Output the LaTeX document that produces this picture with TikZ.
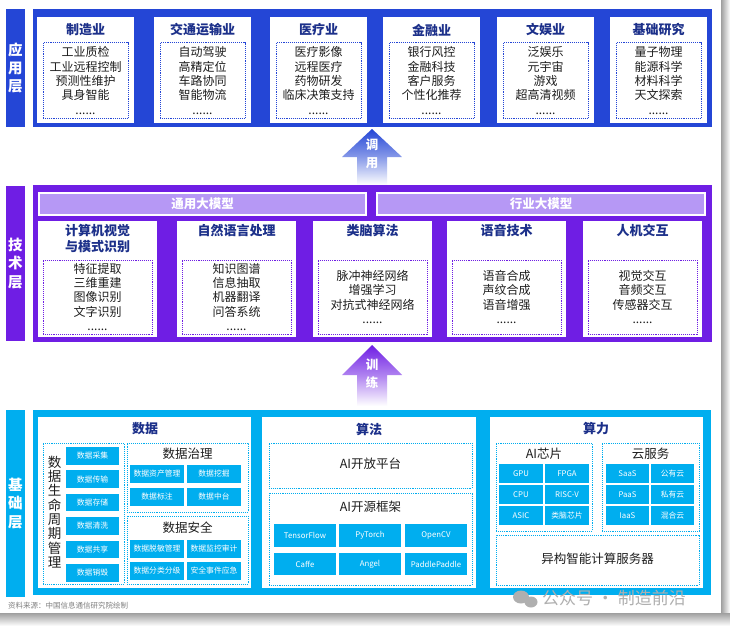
\documentclass[tikz,border=0pt]{standalone}
\usepackage{fontspec}
\setmainfont{Noto Sans CJK SC}
\definecolor{appblue}{RGB}{36,70,214}
\definecolor{techpur}{RGB}{111,30,228}
\definecolor{lightpur}{RGB}{182,152,245}
\definecolor{basecyan}{RGB}{0,174,239}
\definecolor{navy}{RGB}{28,48,138}
\definecolor{txt}{RGB}{30,30,30}
\definecolor{wm}{RGB}{175,175,175}
\newcommand\rbox[7]{\node[#1, minimum width=#5pt, minimum height=#6pt] (#2) at (#3,#4) {#7};}
\tikzset{
 rect/.style={anchor=north west, inner sep=0pt, outer sep=0pt},
 barbox/.style={rect, fill=#1, text=white, font=\fontsize{14.5}{18.3}\selectfont\bfseries, align=center},
 panelbox/.style={rect, fill=#1},
 wbox/.style={rect, fill=white},
 dotbox/.style={rect, draw=#1, line width=1pt, dash pattern=on 1pt off 0.9pt},
 ttl/.style={font=\fontsize{13}{16}\selectfont\bfseries, text=navy, inner sep=0pt, align=center},
 item/.style={font=\fontsize{12}{14.3}\selectfont, text=txt, inner sep=0pt, align=center},
 cbox/.style={rect, fill=basecyan, text=white, font=\fontsize{7.8}{9}\selectfont},
 subttl/.style={font=\fontsize{12.5}{15}\selectfont, text=txt, inner sep=0pt, align=center},
 lpbar/.style={rect, fill=lightpur, draw=white, line width=1.2pt, text=white, font=\fontsize{12.5}{15}\selectfont\bfseries},
 arrtxt/.style={text=white, font=\fontsize{12.5}{15}\selectfont\bfseries, inner sep=0pt},
}
\begin{document}
\begin{tikzpicture}[x=1pt, y=-1pt]
\useasboundingbox (0,0) rectangle (730,626);
\fill[white] (0,0) rectangle (730,626);
% shadows
\shade[left color=gray!75, right color=white] (721,0) rectangle (730,626);
\shade[top color=gray!75, bottom color=white] (0,613) rectangle (730,626);
\fill[white] (0,0) rectangle (721,613);

% ================= application layer
\rbox{barbox=appblue}{appbar}{6}{9}{19}{118}{应\\用\\层}
\rbox{panelbox=appblue}{apppanel}{33}{9}{679}{118}{}
\foreach \i/\x/\t/\its in {
 1/37/制造业/{工业质检\\工业远程控制\\预测性维护\\具身智能\\......},
 2/154/交通运输业/{自动驾驶\\高精定位\\车路协同\\智能物流\\......},
 3/270/医疗业/{医疗影像\\远程医疗\\药物研发\\临床决策支持\\......},
 4/383/金融业/{银行风控\\金融科技\\客户服务\\个性化推荐\\......},
 5/497/文娱业/{泛娱乐\\元宇宙\\游戏\\超高清视频\\......},
 6/610/基础研究/{量子物理\\能源科学\\材料科学\\天文探索\\......}}{
 \rbox{wbox}{a\i}{\x}{17}{97}{106}{}
 \node[ttl] (at\i) at (\x+48.5,30) {\t};
 \rbox{dotbox=appblue}{ad\i}{\x+6}{43}{85}{75}{}
 \node[item] (ai\i) at (\x+48.5,80.5) {\its};
}

% arrow 调用
\shade[top color=appblue, bottom color=white, middle color=appblue!55]
 (372,129) -- (402,157) -- (387,157) -- (387,185) -- (357,185) -- (357,157) -- (342,157) -- cycle;
\node[arrtxt] (tiao) at (372,145) {调};
\node[arrtxt] (yong) at (372,163) {用};

% ================= technology layer
\rbox{barbox=techpur}{techbar}{6}{186}{19}{155}{技\\术\\层}
\rbox{panelbox=techpur}{techpanel}{33}{185}{679}{157}{}
\rbox{lpbar}{gen}{39}{193}{327}{22}{通用大模型}
\rbox{lpbar}{ind}{377}{193}{328}{22}{行业大模型}
\foreach \i/\x/\t/\its in {
 1/38/{计算机视觉\\与模式识别}/{特征提取\\三维重建\\图像识别\\文字识别\\......},
 2/177/自然语言处理/{知识图谱\\信息抽取\\机器翻译\\问答系统\\......},
 3/313/类脑算法/{脉冲神经网络\\增强学习\\对抗式神经网络\\......},
 4/447/语音技术/{语音合成\\声纹合成\\语音增强\\......},
 5/583/人机交互/{视觉交互\\音频交互\\传感器交互\\......}}{
 \rbox{wbox}{t\i}{\x}{221}{119}{116}{}
 \node[ttl, anchor=north] (tt\i) at (\x+59.5,224) {\t};
 \rbox{dotbox=techpur}{td\i}{\x+5}{260}{109}{74}{}
 \node[item] (ti\i) at (\x+59.5,297) {\its};
}

% arrow 训练
\shade[top color=techpur, bottom color=white, middle color=techpur!55]
 (372,345) -- (402,375) -- (387,375) -- (387,406) -- (357,406) -- (357,375) -- (342,375) -- cycle;
\node[arrtxt] (xun) at (372,365) {训};
\node[arrtxt] (lian) at (372,383) {练};

% ================= base layer
\rbox{barbox=basecyan}{basebar}{6}{410}{19}{187}{基\\础\\层}
\rbox{panelbox=basecyan}{basepanel}{33}{410}{678}{185}{}
\rbox{wbox}{pdata}{38}{417}{213}{171}{}
\rbox{wbox}{palgo}{262}{417}{214}{171}{}
\rbox{wbox}{pcomp}{490}{417}{213}{171}{}
\node[ttl] (tdata) at (145,429) {数据};
\node[ttl] (talgo) at (369,429) {算法};
\node[ttl] (tcomp) at (596,429) {算力};

% data lifecycle
\rbox{dotbox=basecyan}{dlife}{43}{443}{81}{141}{}
\node[font=\fontsize{13.5}{14.3}\selectfont, text=txt, inner sep=0pt, align=center] (dlifet) at (54.5,512) {数\\据\\生\\命\\周\\期\\管\\理};
\foreach \i/\y/\t in {1/447/数据采集,2/470.4/数据传输,3/493.8/数据存储,4/517.2/数据清洗,5/540.6/数据共享,6/564/数据销毁}{
 \rbox{cbox}{dl\i}{66}{\y}{53}{17.5}{\t}
}
% governance
\rbox{dotbox=basecyan}{dgov}{127}{443}{121}{69}{}
\node[subttl] (dgovt) at (187.5,453.5) {数据治理};
\rbox{cbox}{dg1}{130}{465}{54}{18}{数据资产管理}
\rbox{cbox}{dg2}{187}{465}{54}{18}{数据挖掘}
\rbox{cbox}{dg3}{130}{488}{54}{18}{数据标注}
\rbox{cbox}{dg4}{187}{488}{54}{18}{数据中台}
% security
\rbox{dotbox=basecyan}{dsec}{127}{516}{121}{68}{}
\node[subttl] (dsect) at (187.5,528) {数据安全};
\rbox{cbox}{ds1}{130}{540}{54}{18}{数据脱敏管理}
\rbox{cbox}{ds2}{187}{540}{54}{18}{数据监控审计}
\rbox{cbox}{ds3}{130}{562}{54}{18}{数据分类分级}
\rbox{cbox}{ds4}{187}{562}{54}{18}{安全事件应急}

% algorithm
\rbox{dotbox=basecyan}{aopen}{269}{443}{203}{45}{}
\node[subttl] (aopent) at (370.5,464) {AI开放平台};
\rbox{dotbox=basecyan}{asrc}{269}{493}{203}{92}{}
\node[subttl] (asrct) at (370.5,507) {AI开源框架};
\rbox{cbox}{f1}{274}{524}{62}{23}{TensorFlow}
\rbox{cbox}{f2}{339}{524}{62}{23}{PyTorch}
\rbox{cbox}{f3}{405}{524}{62}{23}{OpenCV}
\rbox{cbox}{f4}{274}{553}{62}{22}{Caffe}
\rbox{cbox}{f5}{339}{553}{62}{22}{Angel}
\rbox{cbox}{f6}{405}{553}{62}{22}{PaddlePaddle}

% computing
\rbox{dotbox=basecyan}{chip}{496}{443}{96}{88}{}
\node[subttl] (chipt) at (544,453.5) {AI芯片};
\rbox{cbox}{c1}{499}{464}{44}{19}{GPU}
\rbox{cbox}{c2}{545}{464}{44}{19}{FPGA}
\rbox{cbox}{c3}{499}{485}{44}{19}{CPU}
\rbox{cbox}{c4}{545}{485}{44}{19}{RISC-V}
\rbox{cbox}{c5}{499}{506}{44}{19}{ASIC}
\rbox{cbox}{c6}{545}{506}{44}{19}{类脑芯片}
\rbox{dotbox=basecyan}{cloud}{602}{443}{97}{88}{}
\node[subttl] (cloudt) at (650.5,453.5) {云服务};
\rbox{cbox}{s1}{606}{464}{43}{19}{SaaS}
\rbox{cbox}{s2}{651}{464}{43}{19}{公有云}
\rbox{cbox}{s3}{606}{485}{43}{19}{PaaS}
\rbox{cbox}{s4}{651}{485}{43}{19}{私有云}
\rbox{cbox}{s5}{606}{506}{43}{19}{IaaS}
\rbox{cbox}{s6}{651}{506}{43}{19}{混合云}
\rbox{dotbox=basecyan}{hetero}{496}{535}{203}{50}{}
\node[subttl] (heterot) at (597.5,559) {异构智能计算服务器};

% footer
\node[anchor=west, inner sep=0pt, text=gray, font=\fontsize{7.5}{9}\selectfont] (src) at (8,606) {资料来源：中国信息通信研究院绘制};
\fill[wm] (521,597) ellipse (8pt and 6.5pt);
\fill[wm] (531,602) ellipse (6.5pt and 5.5pt);
\node[anchor=west, inner sep=0pt, text=wm, font=\fontsize{17}{20}\selectfont] (wmark) at (542,598) {公众号 · 制造前沿};
\end{tikzpicture}
\end{document}
